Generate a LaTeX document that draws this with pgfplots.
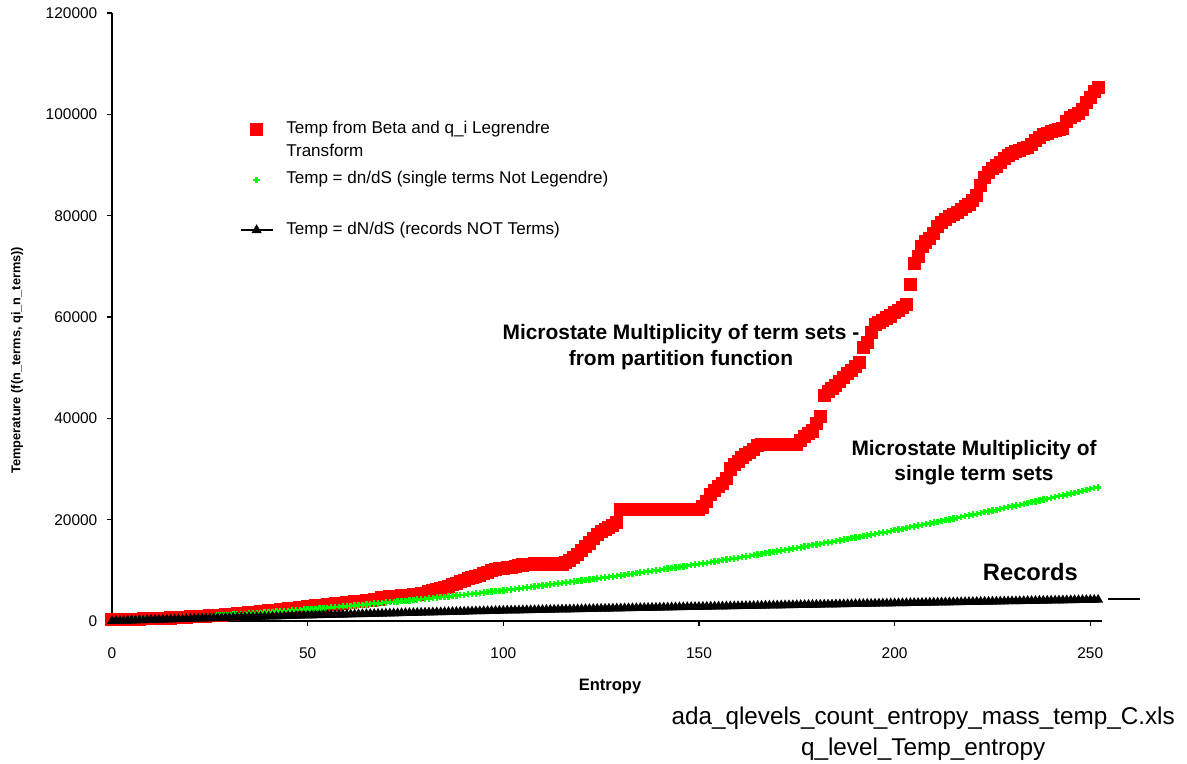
\documentclass[border=0pt]{standalone}
\usepackage{pgfplots}
\pgfplotsset{compat=1.18}
\usepackage{pgfplotstable}
\usepackage{fontspec}
\setmainfont{Liberation Sans}
\definecolor{xlred}{RGB}{255,0,0}
\definecolor{xlgreen}{RGB}{0,255,0}

\pgfplotstableread{
x r g b
0 300 0 0
1 310 32 22
2 320 64 44
3 330 97 66
4 340 131 88
5 350 165 110
6 370 200 132
7 390 235 154
8 410 271 176
9 430 308 198
10 450 345 220
11 480 383 242
12 510 421 264
13 540 460 286
14 570 499 308
15 600 539 330
16 640 580 352
17 680 621 374
18 720 663 396
19 760 705 418
20 800 748 440
21 840 791 462
22 880 836 484
23 920 880 506
24 960 925 528
25 1000 971 550
26 1060 1018 572
27 1120 1065 594
28 1180 1112 616
29 1240 1160 638
30 1300 1209 660
31 1360 1258 682
32 1420 1308 704
33 1480 1359 726
34 1540 1410 748
35 1600 1461 770
36 1680 1513 792
37 1760 1566 814
38 1840 1620 836
39 1920 1673 858
40 2000 1728 880
41 2080 1783 902
42 2160 1839 924
43 2240 1895 946
44 2320 1952 968
45 2400 2009 990
46 2480 2067 1012
47 2560 2126 1034
48 2640 2185 1056
49 2720 2245 1078
50 2800 2305 1100
51 2880 2366 1119
52 2960 2427 1138
53 3040 2489 1157
54 3120 2552 1176
55 3200 2615 1195
56 3280 2679 1214
57 3360 2743 1233
58 3440 2808 1252
59 3520 2874 1271
60 3600 2940 1290
61 3680 3007 1309
62 3760 3074 1328
63 3840 3142 1347
64 3920 3210 1366
65 4000 3279 1385
66 4100 3349 1404
67 4200 3419 1423
68 4300 3490 1442
69 4600 3561 1461
70 4700 3633 1480
71 4760 3705 1499
72 4820 3779 1518
73 4880 3852 1537
74 4940 3926 1556
75 5000 4001 1575
76 5100 4077 1594
77 5200 4153 1613
78 5300 4229 1632
79 5400 4306 1651
80 5500 4384 1670
81 5750 4462 1689
82 6000 4541 1708
83 6200 4621 1727
84 6400 4701 1746
85 6600 4781 1765
86 6900 4862 1784
87 7200 4944 1803
88 7470 5027 1822
89 7730 5109 1841
90 8000 5193 1860
91 8300 5277 1879
92 8600 5362 1898
93 8800 5447 1917
94 9000 5533 1936
95 9300 5619 1955
96 9600 5706 1974
97 9900 5794 1993
98 10200 5882 2012
99 10300 5971 2031
100 10400 6060 2050
101 10500 6150 2065
102 10600 6240 2080
103 10800 6331 2095
104 10950 6423 2110
105 11050 6515 2125
106 11150 6608 2140
107 11200 6701 2155
108 11250 6795 2170
109 11250 6890 2185
110 11250 6985 2200
111 11250 7081 2215
112 11250 7177 2230
113 11250 7274 2245
114 11250 7371 2260
115 11250 7469 2275
116 11500 7568 2290
117 12000 7667 2305
118 12500 7767 2320
119 13200 7867 2335
120 14000 7968 2350
121 14700 8069 2365
122 15400 8172 2380
123 16200 8274 2395
124 17000 8377 2410
125 17600 8481 2425
126 18000 8586 2440
127 18400 8691 2455
128 18900 8796 2470
129 19500 8902 2485
130 22000 9009 2500
131 22000 9116 2515
132 22000 9224 2530
133 22000 9333 2545
134 22000 9442 2560
135 22000 9551 2575
136 22000 9661 2590
137 22000 9772 2605
138 22000 9884 2620
139 22000 9995 2635
140 22000 10108 2650
141 22000 10221 2665
142 22000 10335 2680
143 22000 10449 2695
144 22000 10564 2710
145 22000 10679 2725
146 22000 10795 2740
147 22000 10912 2755
148 22000 11029 2770
149 22000 11147 2785
150 22000 11265 2800
151 22500 11384 2814
152 23500 11503 2828
153 25000 11623 2842
154 25800 11744 2856
155 26500 11865 2870
156 27200 11987 2884
157 28200 12109 2898
158 30000 12232 2912
159 30800 12356 2926
160 31500 12480 2940
161 32200 12605 2954
162 32800 12730 2968
163 33300 12856 2982
164 33900 12982 2996
165 34700 13109 3010
166 34900 13237 3024
167 34900 13365 3038
168 34900 13494 3052
169 34900 13623 3066
170 34900 13753 3080
171 34900 13883 3094
172 34900 14015 3108
173 34900 14146 3122
174 34900 14278 3136
175 34900 14411 3150
176 35600 14545 3164
177 36500 14679 3178
178 37000 14813 3192
179 37500 14948 3206
180 39000 15084 3220
181 40300 15220 3234
182 44500 15357 3248
183 45300 15495 3262
184 45800 15633 3276
185 46500 15771 3290
186 47200 15910 3304
187 48000 16050 3318
188 48800 16191 3332
189 49500 16331 3346
190 50300 16473 3360
191 51000 16615 3374
192 54000 16758 3388
193 55000 16901 3402
194 57000 17045 3416
195 58500 17189 3430
196 59000 17334 3444
197 59300 17480 3458
198 59800 17626 3472
199 60200 17773 3486
200 60800 17920 3500
201 61200 18068 3514
202 61800 18216 3527
203 62500 18365 3541
204 66500 18515 3554
205 70500 18665 3568
206 72000 18816 3581
207 74000 18967 3595
208 74800 19119 3608
209 75500 19272 3622
210 76500 19425 3635
211 77800 19579 3649
212 78700 19733 3662
213 79200 19888 3676
214 79800 20043 3689
215 80200 20199 3703
216 80700 20356 3716
217 81200 20513 3730
218 81800 20671 3743
219 82200 20829 3757
220 83000 20988 3770
221 84000 21147 3784
222 86000 21308 3797
223 87500 21468 3811
224 88500 21629 3824
225 89300 21791 3838
226 89800 21954 3851
227 90500 22117 3865
228 91200 22280 3878
229 91800 22444 3892
230 92300 22609 3905
231 92600 22774 3919
232 92900 22940 3932
233 93200 23107 3946
234 93500 23274 3959
235 94000 23441 3973
236 94800 23609 3986
237 95500 23778 4000
238 96000 23948 4013
239 96300 24117 4027
240 96600 24288 4040
241 96800 24459 4054
242 97000 24631 4067
243 97200 24803 4081
244 98500 24976 4094
245 99300 25149 4108
246 99700 25323 4121
247 100200 25498 4135
248 101000 25673 4148
249 102400 25849 4162
250 103300 26025 4175
251 104500 26202 4189
252 105300 26379 4202
}\datatable

\begin{document}
\begin{tikzpicture}
\useasboundingbox (-42pt,-53.25pt) rectangle (403.125pt,232.875pt);
\begin{axis}[
  at={(0pt,0pt)}, anchor=south west,
  scale only axis, width=371.25pt, height=228pt,
  xmin=0, xmax=253, ymin=0, ymax=120000,
  axis lines*=left,
  axis line style={black, line width=0.5pt},
  clip=false,
  xtick={0,50,...,250}, ytick={0,20000,...,120000},
  tick align=outside, major tick length=1.9pt,
  tick style={black, line width=0.5pt},
  scaled y ticks=false, scaled x ticks=false,
  /pgf/number format/assume math mode=true,
  /pgf/number format/fixed,
  /pgf/number format/precision=0,
  /pgf/number format/set thousands separator={},
  ticklabel style={font=\fontsize{5.8}{7}\selectfont},
  yticklabel style={anchor=east, inner sep=0pt, xshift=-3.4pt},
  xticklabel style={anchor=north, inner sep=0pt, yshift=-8pt},
  xlabel={Entropy},
  xlabel style={font=\bfseries\fontsize{6.2}{7.4}\selectfont, at={([yshift=-24.5pt]axis description cs:0.503,0)}, anchor=center},
  ylabel={Temperature (f(n\_terms, qi\_n\_terms))},
  ylabel style={font=\bfseries\fontsize{4.8}{5.8}\selectfont, at={([xshift=-35.6pt]axis description cs:0,0.429)}, anchor=center},
  legend style={at={(0.1293,0.821)}, anchor=north west, draw=none, fill=none, inner sep=0pt, outer sep=0pt, row sep=12.8pt, column sep=4.9pt, font=\fontsize{6.4}{7.6}\selectfont, nodes={inner sep=0pt, text height=4.5pt, text depth=1.5pt}},
  legend cell align=left,
  legend image code/.code={\draw[mark repeat=2,mark phase=2,#1] plot coordinates {(0cm,0cm)(0.21cm,0cm)(0.42cm,0cm)};},
]
\addplot[only marks, mark=square*, mark size=2.25pt, color=xlred, mark options={draw=xlred, fill=xlred}] table[x=x,y=r]{\datatable};
\addlegendentry{\rlap{\raisebox{-8.4pt}[0pt][0pt]{Transform}}Temp from Beta and q\_i Legrendre}
\addplot[only marks, mark=+, mark size=1.2pt, color=xlgreen, line width=0.9pt] table[x=x,y=g]{\datatable};
\addlegendentry{Temp = dn/dS (single terms Not Legendre)}
\addplot[black, line width=0.5pt, mark=triangle*, mark size=1.7pt, mark options={solid}] table[x=x,y=b]{\datatable};
\addlegendentry{Temp = dN/dS (records NOT Terms)}
\addplot[black, line width=0.5pt, forget plot] coordinates {(254.6,4340)(262.8,4340)};

\node[font=\bfseries\fontsize{7.84}{9.7}\selectfont, align=center] at (axis cs:145.4,54100) {Microstate Multiplicity of term sets -\\from partition function};
\node[font=\bfseries\fontsize{7.84}{9.5}\selectfont, align=center] at (axis cs:220.3,31250) {Microstate Multiplicity of\\single term sets};
\node[font=\bfseries\fontsize{8.9}{10}\selectfont] at (axis cs:234.7,9700) {Records};
\node[font=\fontsize{9.1}{11.6}\selectfont, align=center] at (axis cs:207.3,-22200) {ada\_qlevels\_count\_entropy\_mass\_temp\_C.xls\\q\_level\_Temp\_entropy};
\end{axis}
\end{tikzpicture}
\end{document}
